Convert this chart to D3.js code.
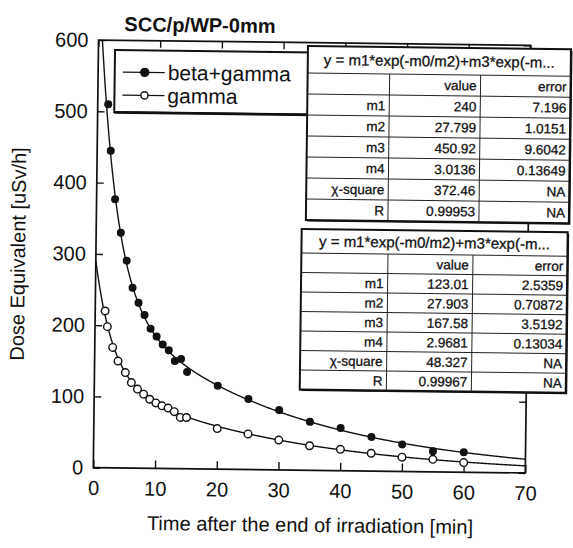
<!DOCTYPE html>
<html>
<head>
<meta charset="utf-8">
<script src="https://cdn.jsdelivr.net/npm/d3@7"></script>
<style>
body { margin: 0; background: #fff; }
svg { display: block; }
text { font-family: "Liberation Sans", Arial, sans-serif; fill: #111; }
</style>
</head>
<body>
<svg id="chart" width="573" height="548"></svg>
<script>
var titleText = "SCC/p/WP-0mm";
var xLabel = "Time after the end of irradiation [min]";
var yLabel = "Dose Equivalent [uSv/h]";
var xTicks = [0, 10, 20, 30, 40, 50, 60, 70];
var yTicks = [0, 100, 200, 300, 400, 500, 600];
var seriesNames = ["beta+gamma", "gamma"];

var timeBG = [1.7, 2.2, 3, 4, 5, 6, 7, 8, 9, 10, 11, 12, 13, 14, 15, 20, 25, 30, 35, 40, 45, 50, 55, 60];
var doseBG = [510, 445, 377, 330, 291, 253, 232, 215, 196, 185, 174, 166, 151, 154, 136, 117, 99, 84, 68, 60, 48, 38, 29, 28];
var timeG = [1.6, 2, 2.9, 3.8, 5, 6, 7, 8, 9, 10, 11, 12, 13, 14, 15, 20, 25, 30, 35, 40, 45, 50, 55, 60];
var doseG = [220, 198, 169, 150, 134, 120, 111, 104, 97, 92, 88, 85, 80, 72, 72, 57, 50, 42, 34.5, 30, 25, 20, 17.5, 13.5];

// fit tables
var fitFormula = "y = m1*exp(-m0/m2)+m3*exp(-m...";
var paramNames = ["m1", "m2", "m3", "m4", "\u03c7-square", "R"];
var valuesBG = [240, 27.799, 450.92, 3.0136, 372.46, 0.99953];
var errorsBG = [7.196, 1.0151, 9.6042, 0.13649, "NA", "NA"];
var valuesG = [123.01, 27.903, 167.58, 2.9681, 48.327, 0.99967];
var errorsG = [2.5359, 0.70872, 3.5192, 0.13034, "NA", "NA"];

// the scan is tilted a little, so the whole chart turns about the origin corner
var tilt = 0.7;
var pivot = [93.3, 467.7];
var sn = Math.sin(tilt * Math.PI / 180), cs = Math.cos(tilt * Math.PI / 180);
function pos(X, Y) {
	var dx = X - pivot[0], dy = Y - pivot[1];
	return [pivot[0] + dx * cs + dy * sn, pivot[1] - dx * sn + dy * cs];
}

var svg = d3.select("#chart");
var g = svg.append("g")
	.attr("transform", "rotate(" + tilt + "," + pivot[0] + "," + pivot[1] + ")");

var x = d3.scaleLinear().domain([0, 70]).range([93.3, 525.3]);
var y = d3.scaleLinear().domain([0, 600]).range([467.7, 40]);

svg.append("defs").append("clipPath").attr("id", "plotClip")
	.append("rect")
	.attr("x", x(0)).attr("y", y(600))
	.attr("width", x(70) - x(0)).attr("height", y(0) - y(600));

// axes with inward ticks
g.append("g").attr("transform", "translate(0," + y(0) + ")")
	.call(d3.axisBottom(x).tickValues(xTicks).tickSizeInner(-8).tickSizeOuter(0).tickPadding(13));
g.append("g").attr("transform", "translate(" + x(0) + ",0)")
	.call(d3.axisLeft(y).tickValues(yTicks).tickSizeInner(-7).tickSizeOuter(0).tickPadding(10));
g.append("g").attr("transform", "translate(0," + y(600) + ")")
	.call(d3.axisTop(x).tickValues(xTicks).tickSizeInner(-7).tickSizeOuter(0).tickFormat(""));
g.append("g").attr("transform", "translate(" + x(70) + ",0)")
	.call(d3.axisRight(y).tickValues(yTicks).tickSizeInner(-7).tickSizeOuter(0).tickFormat(""));

g.selectAll(".domain").remove();
g.selectAll(".tick line").attr("stroke", "#111").attr("stroke-width", 1.4);
g.selectAll(".tick text").attr("font-size", 20).attr("fill", "#111")
	.style("font-family", "'Liberation Sans', Arial, sans-serif");

g.append("rect")
	.attr("x", x(0)).attr("y", y(600))
	.attr("width", x(70) - x(0)).attr("height", y(0) - y(600))
	.attr("fill", "none").attr("stroke", "#111").attr("stroke-width", 1.7);

// fitted curves from the table parameters
function fitLine(p) {
	return d3.range(0, 70.05, 0.1).map(function (t) {
		return [t, p[0] * Math.exp(-t / p[1]) + p[2] * Math.exp(-t / p[3])];
	});
}
var line = d3.line()
	.x(function (d) { return x(d[0]); })
	.y(function (d) { return y(d[1]); });

var plot = g.append("g").attr("clip-path", "url(#plotClip)");
[valuesBG, valuesG].forEach(function (p) {
	plot.append("path")
		.attr("d", line(fitLine(p)))
		.attr("fill", "none")
		.attr("stroke", "#111")
		.attr("stroke-width", 1.4);
});

var ptsBG = timeBG.map(function (t, i) { return [t, doseBG[i]]; });
var ptsG = timeG.map(function (t, i) { return [t, doseG[i]]; });

plot.selectAll(".bg").data(ptsBG).enter().append("circle")
	.attr("class", "bg")
	.attr("cx", function (d) { return x(d[0]); })
	.attr("cy", function (d) { return y(d[1]); })
	.attr("r", 4)
	.attr("fill", "#111");

plot.selectAll(".gm").data(ptsG).enter().append("circle")
	.attr("class", "gm")
	.attr("cx", function (d) { return x(d[0]); })
	.attr("cy", function (d) { return y(d[1]); })
	.attr("r", 3.8)
	.attr("fill", "#fff")
	.attr("stroke", "#111")
	.attr("stroke-width", 1.4);

// titles
var tp = pos(200, 25);
g.append("text").attr("x", tp[0]).attr("y", tp[1]).attr("dy", "0.35em")
	.attr("text-anchor", "middle").attr("font-size", 20).attr("font-weight", "bold")
	.text(titleText);

var xp = pos(310, 525);
g.append("text").attr("x", xp[0]).attr("y", xp[1]).attr("dy", "0.35em")
	.attr("text-anchor", "middle").attr("font-size", 20)
	.text(xLabel);

var yp = pos(18, 254);
g.append("text")
	.attr("transform", "translate(" + yp[0] + "," + yp[1] + ") rotate(-90)")
	.attr("dy", "0.35em")
	.attr("text-anchor", "middle").attr("font-size", 20)
	.text(yLabel);

// legend
var lp = pos(115, 50);
var leg = g.append("g").attr("transform", "translate(" + lp[0] + "," + lp[1] + ")");
leg.append("rect").attr("x", 0).attr("y", 0).attr("width", 220).attr("height", 62)
	.attr("fill", "#fff").attr("stroke", "#111").attr("stroke-width", 2);
leg.append("line").attr("x1", 0).attr("x2", 220).attr("y1", 62.5).attr("y2", 62.5)
	.attr("stroke", "#111").attr("stroke-width", 2.5);
seriesNames.forEach(function (name, i) {
	var ly = 22 + i * 23;
	leg.append("line").attr("x1", 8).attr("x2", 50).attr("y1", ly).attr("y2", ly)
		.attr("stroke", "#111").attr("stroke-width", 1.4);
	leg.append("circle").attr("cx", 30).attr("cy", ly).attr("r", i ? 3.6 : 4)
		.attr("fill", i ? "#fff" : "#111").attr("stroke", "#111").attr("stroke-width", 1.4);
	leg.append("text").attr("x", 53).attr("y", ly).attr("dy", "0.35em")
		.attr("font-size", 21).text(name);
});

// fit result tables
function drawTable(X, Y, w, titleH, rowH, cols, values, errors) {
	var p = pos(X, Y);
	var t = g.append("g").attr("transform", "translate(" + p[0] + "," + p[1] + ")");
	var h = titleH + rowH * 7;
	t.append("rect").attr("x", 1.5).attr("y", 1.5).attr("width", w).attr("height", h)
		.attr("fill", "#111");
	t.append("rect").attr("x", 0).attr("y", 0).attr("width", w).attr("height", h)
		.attr("fill", "#fff").attr("stroke", "#111").attr("stroke-width", 2);
	t.append("text").attr("x", w / 2).attr("y", titleH / 2).attr("dy", "0.35em")
		.attr("text-anchor", "middle").attr("font-size", 15)
		.attr("stroke", "#111").attr("stroke-width", 0.3)
		.text(fitFormula);

	var rows = [["", "value", "error"]];
	paramNames.forEach(function (n, i) {
		rows.push([n, String(values[i]), String(errors[i])]);
	});
	rows.forEach(function (r, i) {
		var ry = titleH + i * rowH;
		t.append("line").attr("x1", 0).attr("x2", w).attr("y1", ry).attr("y2", ry)
			.attr("stroke", "#222").attr("stroke-width", 1);
		var edges = [cols[0], cols[1], w];
		r.forEach(function (s, j) {
			t.append("text").attr("x", edges[j] - 4).attr("y", ry + rowH / 2).attr("dy", "0.36em")
				.attr("text-anchor", "end").attr("font-size", 13.5)
				.attr("stroke", "#111").attr("stroke-width", 0.3)
				.text(s);
		});
	});
	cols.forEach(function (c) {
		t.append("line").attr("x1", c).attr("x2", c).attr("y1", titleH).attr("y2", h)
			.attr("stroke", "#222").attr("stroke-width", 1);
	});
}

drawTable(308, 46, 263, 27, 21, [82, 173], valuesBG, errorsBG);
drawTable(301.7, 229, 266, 24, 19.5, [86.6, 171.6], valuesG, errorsG);
</script>
</body>
</html>
